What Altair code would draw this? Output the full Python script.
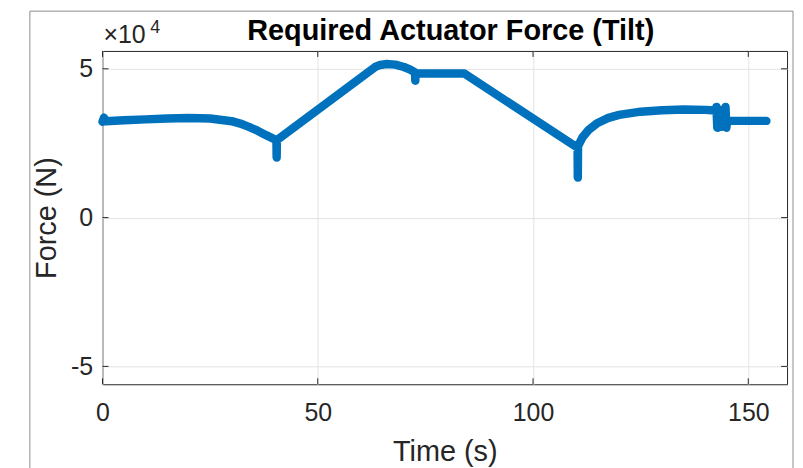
import altair as alt
import pandas as pd

# ---- data ----
time_s = [0.0, 0.35, 0.7, 5, 10, 15, 20, 25, 30, 32, 34, 36, 38,
          40.4, 40.45, 40.5, 63.3, 64.5, 66, 68, 70, 71.5, 72.6, 72.65, 72.7,
          84.05, 110.35, 110.4, 110.45, 111.5, 113, 115, 117.5, 120, 125,
          130, 135, 140, 142.4, 142.6, 142.8, 143.2, 143.6, 144.0, 144.4,
          144.7, 144.9, 145.1, 154.2]
force_N = [32200, 33600, 32400, 32700, 33000, 33300, 33500, 33300, 32400,
           31600, 30500, 29200, 27700,
           26000, 20200, 26000, 50600, 51300, 51600, 51400, 50600, 49700,
           48800, 46000, 48500,
           48400, 23500, 13500, 24000, 27000, 29600, 31800, 33500, 34500,
           35600, 36100, 36300, 36200, 36000, 37200, 30200, 36200, 30500,
           36000, 30500, 37200, 30200, 32500, 32500]

x_ticks = [0, 50, 100, 150]
y_ticks = [-50000, 0, 50000]

title_text = "Required Actuator Force (Tilt)"
x_label = "Time (s)"
y_label = "Force (N)"
exp_base = "×10"
exp_power = "4"

W, H = 688, 335
FONT = "Liberation Sans"
DARK = "#262626"

df = pd.DataFrame({"t": time_s, "F": force_N, "i": list(range(len(time_s)))})
one = pd.DataFrame({"a": [0]})
xt = pd.DataFrame({"t": x_ticks})
yt = pd.DataFrame({"F": y_ticks})

xs = alt.Scale(domain=[0, 159], nice=False, zero=False)
ys = alt.Scale(domain=[-56000, 56000], nice=False, zero=False)

xaxis = alt.Axis(values=x_ticks, title=x_label, grid=True, ticks=False,
                 domain=False, labelFontSize=25, labelPadding=16,
                 labelFlush=False, titleFontSize=29, titleY=77,
                 titleBaseline="alphabetic")
yaxis = alt.Axis(values=y_ticks, title=y_label, grid=True, ticks=False,
                 domain=False, labelFontSize=25, labelPadding=10,
                 labelExpr="'' + datum.value / 10000",
                 titleFontSize=29, titleX=-47, titleY=H / 2,
                 titleBaseline="alphabetic")

X = lambda: alt.X("t:Q", scale=xs, axis=xaxis, title=x_label)
Y = lambda: alt.Y("F:Q", scale=ys, axis=yaxis, title=y_label)

line = alt.Chart(df).mark_line(color="#0072BD", strokeWidth=8.5,
                               strokeCap="round", strokeJoin="round").encode(
    x=X(), y=Y(), order="i:Q")

frame = alt.Chart(one).mark_rect(fillOpacity=0, stroke="#8c8c8c",
                                 strokeWidth=1).encode(
    x=alt.value(-73), x2=alt.value(694), y=alt.value(-40), y2=alt.value(480))

tick_kw = dict(color=DARK, strokeWidth=1)
xb = alt.Chart(xt).mark_rule(**tick_kw).encode(
    x=X(), y=alt.value(H), y2=alt.value(H - 6))
xtp = alt.Chart(xt).mark_rule(**tick_kw).encode(
    x=X(), y=alt.value(0), y2=alt.value(6))
yl = alt.Chart(yt).mark_rule(**tick_kw).encode(
    y=Y(), x=alt.value(0), x2=alt.value(6))
yr = alt.Chart(yt).mark_rule(**tick_kw).encode(
    y=Y(), x=alt.value(W), x2=alt.value(W - 6))

title = alt.Chart(one).mark_text(text=title_text, align="center",
                                 baseline="alphabetic", fontSize=29,
                                 fontWeight="bold", font=FONT,
                                 color="#000000").encode(
    x=alt.value(W / 2 + 6), y=alt.value(-11))
exp1 = alt.Chart(one).mark_text(text=exp_base, align="left",
                                baseline="alphabetic", fontSize=25, font=FONT,
                                color=DARK).encode(
    x=alt.value(1), y=alt.value(-8))
exp2 = alt.Chart(one).mark_text(text=exp_power, align="left",
                                baseline="alphabetic", fontSize=18, font=FONT,
                                color=DARK).encode(
    x=alt.value(48), y=alt.value(-18))

chart = alt.layer(line, frame, xb, xtp, yl, yr, title, exp1, exp2).properties(
    width=W, height=H,
    padding={"left": 95, "top": 42, "right": 8, "bottom": 83},
    autosize="none",
).configure_view(stroke=DARK, strokeWidth=1).configure_axis(
    gridColor="#e3e3e3", gridWidth=1, labelFont=FONT, titleFont=FONT,
    labelColor=DARK, titleColor=DARK, titleFontWeight="normal")

chart.save("out.html", embed_options={"renderer": "svg", "actions": False})
